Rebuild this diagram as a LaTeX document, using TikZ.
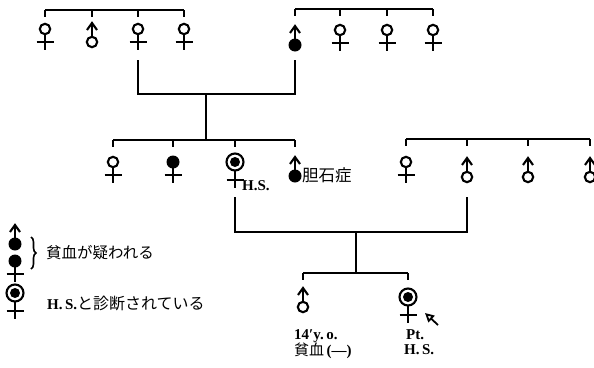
\documentclass[tikz,border=0pt]{standalone}
\usepackage{fontspec}
\setmainfont{Liberation Serif}
\newfontfamily\jp{Noto Sans CJK JP}
\usetikzlibrary{decorations.pathreplacing,arrows.meta}
\tikzset{
  ln/.style={line width=2pt},
  sym/.style={line width=2.1pt},
  pics/female/.style={code={
    \draw[sym] (0,0) circle (5.2pt);
    \draw[sym] (0,5) -- (0,21);
    \draw[sym] (-8.5,13) -- (8.5,13);}},
  pics/ffemale/.style={code={
    \fill (0,0) circle (6.5pt);
    \draw[sym] (0,5) -- (0,21);
    \draw[sym] (-8.5,13) -- (8.5,13);}},
  pics/hsfemale/.style={code={
    \draw[sym] (0,0) circle (8.5pt);
    \fill (0,0) circle (5pt);
    \draw[sym] (0,8.5) -- (0,26);
    \draw[sym] (-8.5,18) -- (8.5,18);}},
  pics/male/.style={code={
    \draw[sym] (0,0) circle (5.2pt);
    \draw[sym] (0,-5) -- (0,-19);
    \draw[sym] (-5,-12) -- (0,-19) -- (5,-12);}},
  pics/fmale/.style={code={
    \fill (0,0) circle (6.5pt);
    \draw[sym] (0,-5) -- (0,-19);
    \draw[sym] (-5,-12) -- (0,-19) -- (5,-12);}},
  lbl/.style={inner sep=0pt, font=\bfseries\fontsize{15}{16}\selectfont},
  jlbl/.style={inner sep=0pt, font=\jp\fontsize{15.5}{16}\selectfont},
}
\begin{document}
\begin{tikzpicture}[x=1pt,y=-1pt]
\useasboundingbox (0,0) rectangle (594,367);
% ---------- Generation I left
\coordinate (a1) at (45,10); \coordinate (a2) at (92,10);
\coordinate (a3) at (138,10); \coordinate (a4) at (184,10);
\draw[ln] (a1) -- (a4);
\foreach \c in {a1,a2,a3,a4} \draw[ln] (\c) -- ++(0,7);
\pic at (45,29) {female};
\pic at (92,42) {male};
\pic at (138,29) {female};
\pic at (184,29) {female};
% ---------- Generation I right
\coordinate (b1) at (295,9); \coordinate (b2) at (340,9);
\coordinate (b3) at (387,9); \coordinate (b4) at (433,9);
\draw[ln] (b1) -- (b4);
\foreach \c in {b1,b2,b3,b4} \draw[ln] (\c) -- ++(0,7);
\pic at (295,45) {fmale};
\pic at (340,30) {female};
\pic at (387,30) {female};
\pic at (433,30) {female};
% marriage I
\coordinate (m1a) at (138,60); \coordinate (m1b) at (295,60);
\coordinate (m1c) at (206,94); \coordinate (s2) at (206,140);
\draw[ln] (m1a) |- (m1c) -| (m1b);
\draw[ln] (m1c) -- (s2);
% ---------- Generation II left
\coordinate (c1) at (113,140); \coordinate (c2) at (173,140);
\coordinate (c3) at (235,140); \coordinate (c4) at (295,140);
\draw[ln] (c1) -- (c4);
\foreach \c in {c1,c2,c3,c4} \draw[ln] (\c) -- ++(0,7);
\pic at (113,162) {female};
\pic at (173,162) {ffemale};
\pic at (235,162) {hsfemale};
\pic at (295,176) {fmale};
\node[lbl,anchor=west] (hs1) at (242,186) {H.S.};
\node[jlbl,font=\jp\fontsize{16.5}{17}\selectfont,anchor=west] (gall) at (302,175) {胆石症};
% ---------- Generation II right
\coordinate (d1) at (406,139); \coordinate (d2) at (467,139);
\coordinate (d3) at (528,139); \coordinate (d4) at (590,139);
\draw[ln] (d1) -- (d4);
\foreach \c in {d1,d2,d3,d4} \draw[ln] (\c) -- ++(0,7);
\pic at (406,162) {female};
\pic at (467,177) {male};
\pic at (528,177) {male};
\pic at (590,177) {male};
% marriage II
\coordinate (m2a) at (235,197); \coordinate (m2b) at (467,197);
\coordinate (m2c) at (356,232); \coordinate (s3) at (356,273);
\draw[ln] (m2a) |- (m2c) -| (m2b);
\draw[ln] (m2c) -- (s3);
% ---------- Generation III
\coordinate (e1) at (303,273); \coordinate (e2) at (408,273);
\draw[ln] (e1) -- (e2);
\foreach \c in {e1,e2} \draw[ln] (\c) -- ++(0,7);
\pic at (303,307) {male};
\pic at (408,297) {hsfemale};
\coordinate (pa) at (438,325); \coordinate (pb) at (425,313);
\draw[line width=1.8pt,-{Triangle[open,length=9pt,width=9pt,line width=1.8pt]}] (pa) -- (pb);
\node[lbl,anchor=north west] (age) at (294,329) {14′y.\,o.};
\node[anchor=north west,inner sep=0pt] (anem) at (294,343) {{\jp\fontsize{15}{16}\selectfont 貧血}{\bfseries\fontsize{15}{16}\selectfont\,(—)}};
\node[lbl,anchor=north west] (pt) at (406,329) {Pt.};
\node[lbl,anchor=north west] (hs2) at (404,344) {H.\,S.};
% ---------- Legend
\pic at (15,244) {fmale};
\pic at (15,261) {ffemale};
\draw[line width=1.6pt,decorate,decoration={brace,amplitude=5pt}] (31,237) -- (31,269);
\node[jlbl,anchor=west] (leg1) at (46,253) {貧血が疑われる};
\pic at (15,293) {hsfemale};
\node[anchor=west,inner sep=0pt] (leg2) at (47,303) {{\bfseries\fontsize{15}{16}\selectfont H.\,S.}{\jp\fontsize{16}{17}\selectfont と診断されている}};
\end{tikzpicture}
\end{document}
